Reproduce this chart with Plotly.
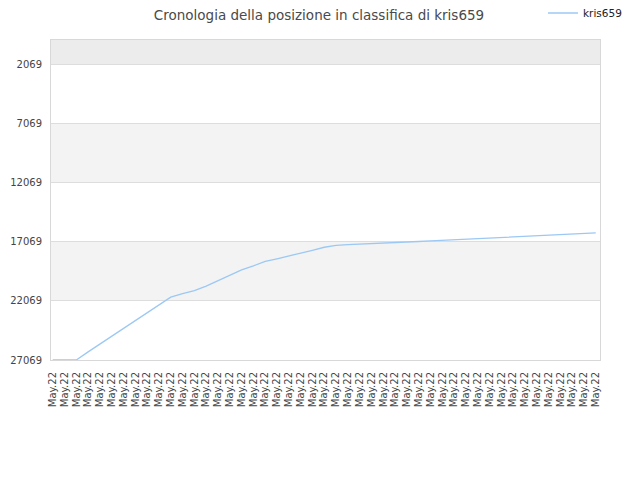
import plotly.graph_objects as go

title_text = "Cronologia della posizione in classifica di kris659"
series_name = "kris659"
x_labels = ["May.22"] * 47
positions = [27069, 27069, 27069, 26385, 25718, 25059, 24392, 23733, 23074, 22407,
             21748, 21452, 21199, 20819, 20354, 19873, 19442, 19104, 18733, 18505,
             18285, 18032, 17787, 17533, 17381, 17314, 17280, 17229, 17187, 17137,
             17094, 17044, 16993, 16942, 16900, 16849, 16799, 16756, 16706, 16655,
             16604, 16562, 16511, 16461, 16419, 16368, 16317]
y_ticks = [2069, 7069, 12069, 17069, 22069, 27069]
y_top = 1

x_idx = list(range(len(x_labels)))

fig = go.Figure()
fig.add_trace(go.Scatter(
    x=x_idx, y=positions, mode="lines", name=series_name,
    line=dict(color="#9cc8f4", width=1.3),
    hoverinfo="skip",
))

# alternating background bands
bounds = [y_top] + y_ticks
band_colors = ["#ececec", None, "#f3f3f3", None, "#f3f3f3", None]
shapes = []
for i in range(len(bounds) - 1):
    if band_colors[i]:
        shapes.append(dict(type="rect", xref="paper", x0=0, x1=1, yref="y",
                           y0=bounds[i], y1=bounds[i + 1], fillcolor=band_colors[i],
                           line=dict(width=0), layer="below"))

fig.update_layout(
    width=640, height=480,
    margin=dict(l=43, r=48, t=32, b=128, autoexpand=False),
    paper_bgcolor="white", plot_bgcolor="white",
    font=dict(family="DejaVu Sans", size=10, color="#444444"),
    title=dict(text=title_text, x=(319 - 8) / 640, xref="container", xanchor="center",
               y=1 - 7.5 / 480, yref="container", yanchor="middle",
               font=dict(size=13.5, color="#4a4a4a", family="DejaVu Sans")),
    showlegend=True,
    legend=dict(x=(543 - 51) / 549, y=(360 - 13) / 320, xanchor="left", yanchor="middle",
                xref="paper", yref="paper", bgcolor="rgba(0,0,0,0)",
                font=dict(size=10.5, color="#222222"), itemwidth=30),
    shapes=shapes,
    xaxis=dict(range=[-0.144, 46.36], tickmode="array", tickvals=x_idx, ticktext=x_labels,
               tickangle=-90, showgrid=False, zeroline=False, showline=True,
               linecolor="#d8d8d8", linewidth=1, mirror=True, ticks="", automargin=False,
               ticklabelstandoff=7, tickfont=dict(size=10, color="#444444")),
    yaxis=dict(range=[27069, y_top], autorange=False, tickmode="array", tickvals=y_ticks,
               ticktext=[str(v) for v in y_ticks], showgrid=True, gridcolor="#dddddd",
               gridwidth=1, zeroline=False, showline=True, linecolor="#d8d8d8",
               linewidth=1, mirror=True, ticks="", ticklabelstandoff=6, automargin=False,
               tickfont=dict(size=10, color="#444444")),
)

fig.write_html("out.html")
